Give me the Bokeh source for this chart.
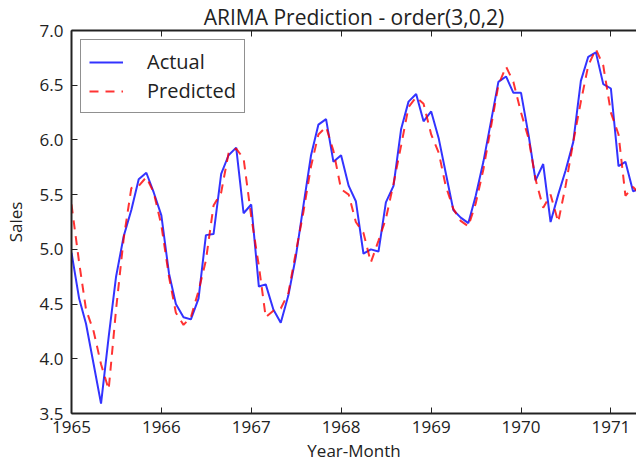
import pandas as pd
from datetime import datetime
from bokeh.plotting import figure
from bokeh.models import (Range1d, DatetimeAxis, FixedTicker, DatetimeTickFormatter,
                          PrintfTickFormatter, Legend, LegendItem)
from bokeh.embed import file_html
from bokeh.resources import INLINE

# ---- data (monthly, starting 1965-01) ----
start_month = "1965-01-01"
actual = [4.97, 4.55, 4.32, 3.95, 3.59, 4.20, 4.75, 5.12, 5.36, 5.64, 5.70, 5.52,
          5.31, 4.78, 4.50, 4.38, 4.36, 4.55, 5.13, 5.14, 5.69, 5.86, 5.93, 5.33,
          5.41, 4.66, 4.68, 4.45, 4.33, 4.58, 4.93, 5.40, 5.86, 6.14, 6.19, 5.80,
          5.86, 5.58, 5.44, 4.96, 5.00, 4.98, 5.43, 5.58, 6.10, 6.35, 6.42, 6.17,
          6.26, 6.01, 5.70, 5.36, 5.29, 5.24, 5.49, 5.80, 6.17, 6.53, 6.58, 6.43,
          6.43, 6.04, 5.63, 5.78, 5.25, 5.50, 5.72, 5.98, 6.54, 6.76, 6.80, 6.51,
          6.47, 5.76, 5.80, 5.53, 5.56]
predicted = [5.41, 4.88, 4.45, 4.25, 3.95, 3.72, 4.45, 5.10, 5.56, 5.58, 5.66, 5.52,
             5.22, 4.75, 4.42, 4.31, 4.38, 4.62, 4.90, 5.40, 5.52, 5.88, 5.92, 5.83,
             5.30, 4.85, 4.38, 4.44, 4.46, 4.60, 4.97, 5.34, 5.76, 6.05, 6.12, 5.90,
             5.55, 5.50, 5.25, 5.15, 4.88, 5.08, 5.28, 5.60, 5.95, 6.30, 6.39, 6.33,
             6.05, 5.88, 5.58, 5.37, 5.26, 5.21, 5.42, 5.73, 6.12, 6.50, 6.67, 6.53,
             6.25, 6.01, 5.64, 5.38, 5.50, 5.25, 5.58, 5.98, 6.35, 6.68, 6.83, 6.68,
             6.25, 6.05, 5.49, 5.57, 5.50]
tick_years = [1965, 1966, 1967, 1968, 1969, 1970, 1971]
y_ticks = [3.5, 4.0, 4.5, 5.0, 5.5, 6.0, 6.5, 7.0]

months = pd.date_range(start_month, periods=len(actual), freq="MS")
year_ticks_ms = [pd.Timestamp(f"{y}-01-01").value / 1e6 for y in tick_years]

FONT = "Open Sans"
TXT = "#222222"

p = figure(width=636, height=464, x_axis_type="datetime", output_backend="svg",
           toolbar_location=None,
           x_range=Range1d(datetime(1965, 1, 1), datetime(1971, 4, 15)),
           y_range=Range1d(3.5, 7.0),
           min_border_left=68, min_border_right=0, min_border_top=0,
           min_border_bottom=0, title="ARIMA Prediction - order(3,0,2)")

p.title.align = "center"
p.title.text_font = FONT
p.title.text_font_size = "21px"
p.title.text_font_style = "normal"
p.title.text_color = TXT
p.title.standoff = 0

p.xgrid.visible = False
p.ygrid.visible = False
p.outline_line_color = None
p.background_fill_color = "white"

fmt = DatetimeTickFormatter(years="%Y", months="%Y", days="%Y", hours="%Y")
for ax in p.xaxis:
    ax.ticker = FixedTicker(ticks=year_ticks_ms)
    ax.formatter = fmt
for ax in p.yaxis:
    ax.ticker = FixedTicker(ticks=y_ticks)
    ax.formatter = PrintfTickFormatter(format="%.1f")

for ax in list(p.xaxis) + list(p.yaxis):
    ax.major_tick_in = 6
    ax.major_tick_out = 0
    ax.minor_tick_line_color = None
    ax.axis_line_width = 2
    ax.axis_line_color = "#222222"
    ax.major_tick_line_color = "#222222"
    ax.major_tick_line_width = 1
    ax.major_label_text_font = FONT
    ax.major_label_text_font_size = "17px"
    ax.major_label_text_color = TXT
    ax.axis_label_text_font = FONT
    ax.axis_label_text_font_size = "17px"
    ax.axis_label_text_font_style = "normal"
    ax.axis_label_text_color = TXT

p.xaxis.axis_label = "Year-Month"
p.yaxis.axis_label = "Sales"
p.xaxis.major_label_text_line_height = 1.0
p.xaxis.axis_label_text_line_height = 1.0
p.xaxis.major_label_standoff = 7
p.xaxis.axis_label_standoff = 3
p.yaxis.major_label_standoff = 8
p.yaxis.axis_label_standoff = 10

top = DatetimeAxis(ticker=FixedTicker(ticks=year_ticks_ms), formatter=fmt,
                   major_tick_in=6, major_tick_out=0, minor_tick_line_color=None,
                   axis_line_width=2, axis_line_color="#222222",
                   major_tick_line_color="#222222",
                   major_label_text_font_size="0px", major_label_text_color=None,
                   major_label_standoff=0)
p.add_layout(top, "above")

r_act = p.line(months, actual, line_color="#0000ff", line_width=2, line_alpha=0.8)
r_pred = p.line(months, predicted, line_color="#ff0000", line_width=2, line_alpha=0.8,
                line_dash="9 7")

legend = Legend(items=[LegendItem(label="Actual", renderers=[r_act]),
                       LegendItem(label="Predicted", renderers=[r_pred])],
                location="top_left", margin=9, padding=8, spacing=2,
                label_height=24, glyph_height=24, glyph_width=34, label_standoff=24,
                label_text_font=FONT, label_text_font_size="20px", label_text_color=TXT,
                border_line_color="#222222", border_line_width=1.5,
                background_fill_alpha=1.0)
p.add_layout(legend, "center")

open("out.html", "w").write(file_html(p, INLINE))
